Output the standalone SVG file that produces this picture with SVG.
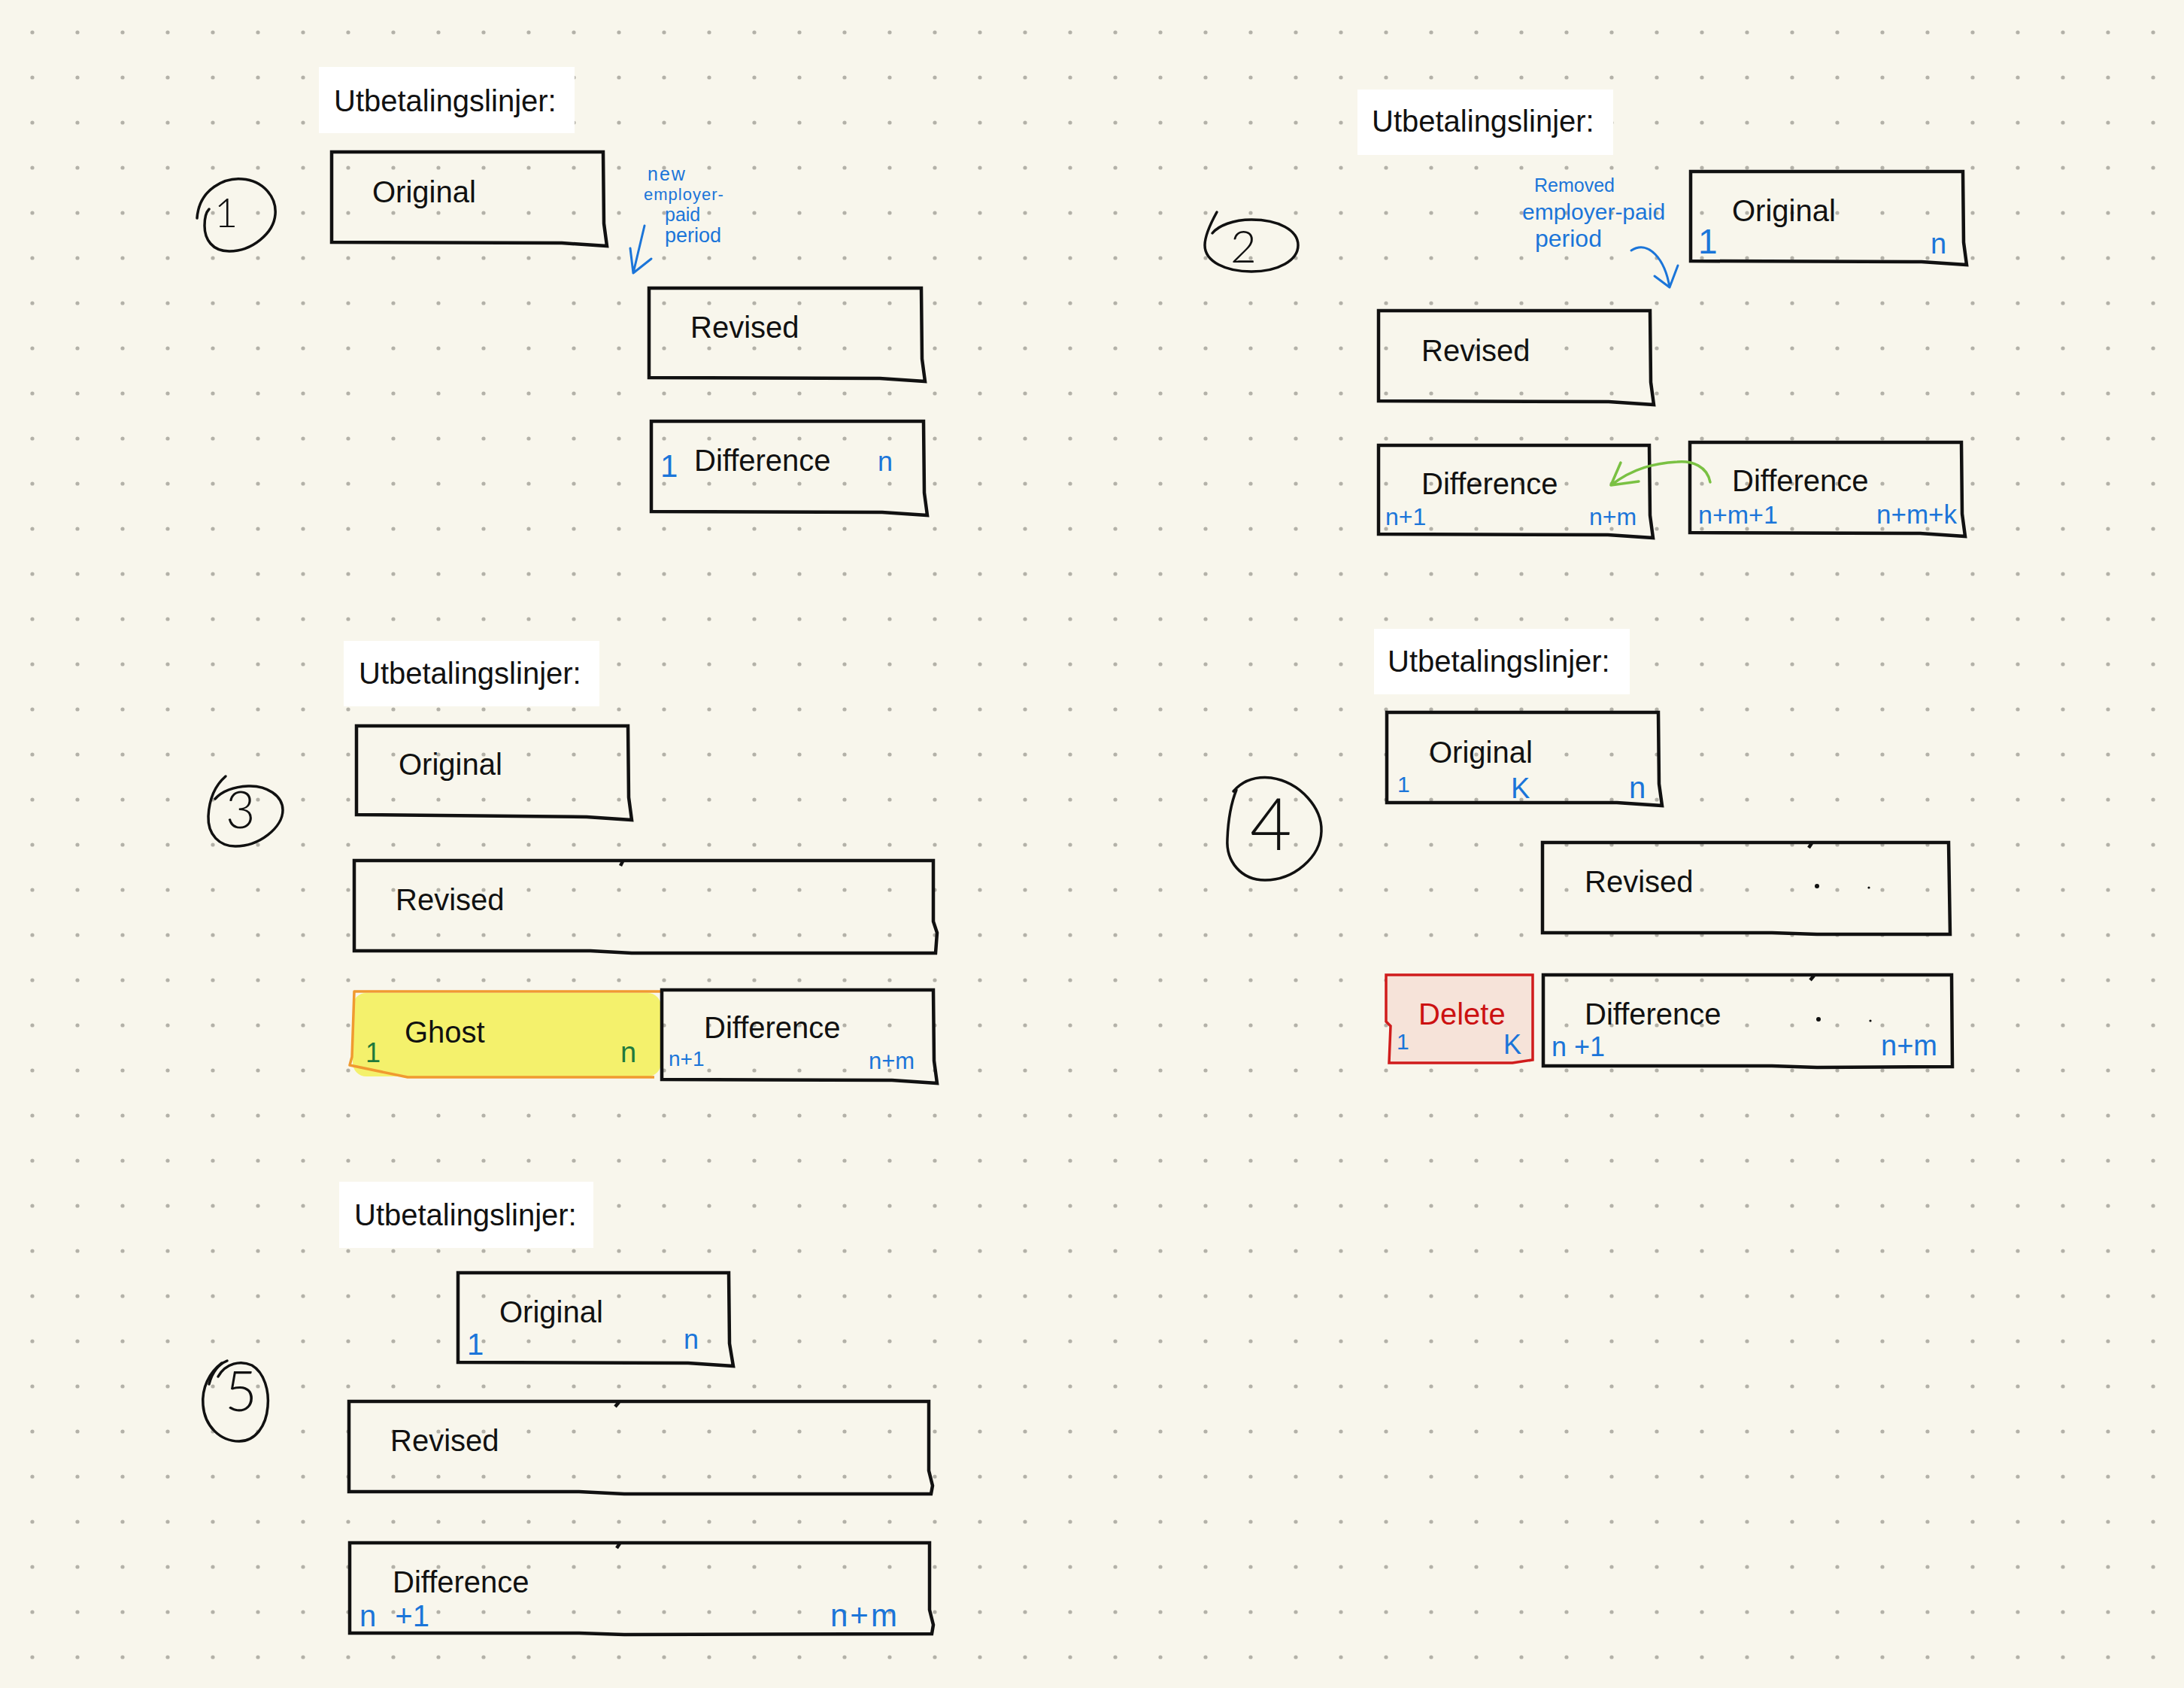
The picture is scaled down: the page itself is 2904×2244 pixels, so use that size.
<svg xmlns="http://www.w3.org/2000/svg" width="2904" height="2244" viewBox="0 0 2904 2244">
<defs>
<pattern id="dots" x="13" y="13" width="60" height="60" patternUnits="userSpaceOnUse"><circle cx="30" cy="30" r="2.6" fill="#b3b1a8"/></pattern>
<style>
.bg{fill:#f8f6ec}
.box{fill:none;stroke:#111;stroke-width:4.5;stroke-linejoin:miter}
.lbl{fill:#fff}
.t{font-family:"Liberation Sans",Arial,sans-serif;font-size:40px;fill:#111}
.h{font-family:"Liberation Sans",Arial,sans-serif;fill:#1b75d9}
.g{font-family:"Liberation Sans",Arial,sans-serif;fill:#1f7a3c}
.num{font-family:Lato,"Liberation Sans",sans-serif;font-weight:300;fill:#111}
.circ{fill:none;stroke:#111;stroke-width:3.5;stroke-linecap:round}
.bl{fill:none;stroke:#1b75d9;stroke-width:3;stroke-linecap:round;stroke-linejoin:round}
.gr{fill:none;stroke:#7ac143;stroke-width:3.5;stroke-linecap:round;stroke-linejoin:round}
</style>
</defs>
<rect class="bg" x="0" y="0" width="2904" height="2244"/>
<rect x="0" y="0" width="2904" height="2244" fill="url(#dots)"/>

<!-- Panel 1 -->
<g id="p1-number">
<path class="circ" d="M262,290 C265,250 300,236 322,238 C350,240 368,262 366,285 C364,310 335,334 305,334 C282,334 272,318 272,300 C272,290 274,282 278,278"/>
<text class="num" x="285" y="302" font-size="54">1</text>
</g>
<g id="p1-label"><rect class="lbl" x="424" y="89" width="340" height="88"/><text class="t" x="444" y="148">Utbetalingslinjer:</text></g>
<g id="p1-original"><path class="box" d="M441,202 H802 L803,297 L807,327 L747,323 L441,322 Z"/><text class="t" x="495" y="269">Original</text></g>
<g id="p1-revised"><path class="box" d="M863,383 H1225 L1226,477 L1230,507 L1170,503 L863,502 Z"/><text class="t" x="918" y="449">Revised</text></g>
<g id="p1-difference"><path class="box" d="M866,560 H1228 L1229,655 L1233,685 L1173,681 L866,680 Z"/><text class="t" x="923" y="626">Difference</text>
<text class="h" x="878" y="634" font-size="42">1</text><text class="h" x="1167" y="626" font-size="36">n</text></g>
<g id="p1-note">
<text class="h" x="861" y="240" font-size="25" letter-spacing="2">new</text>
<text class="h" x="856" y="266" font-size="22" letter-spacing="1">employer-</text>
<text class="h" x="884" y="294" font-size="25">paid</text>
<text class="h" x="884" y="322" font-size="27">period</text>
</g>

<!-- Panel 2 -->
<g id="p2-number">
<path class="circ" d="M1618,282 C1608,300 1602,315 1602,326 C1602,348 1630,361 1664,361 C1700,361 1726,346 1726,326 C1726,306 1700,292 1664,292 C1640,292 1620,300 1612,310"/>
<text class="num" x="1636" y="349" font-size="60">2</text>
</g>
<g id="p2-label"><rect class="lbl" x="1805" y="119" width="340" height="87"/><text class="t" x="1824" y="175">Utbetalingslinjer:</text></g>
<g id="p2-original"><path class="box" d="M2248,228 H2610 L2611,322 L2615,352 L2555,348 L2248,347 Z"/><text class="t" x="2303" y="294">Original</text>
<text class="h" x="2258" y="337" font-size="46">1</text><text class="h" x="2567" y="337" font-size="38">n</text></g>
<g id="p2-revised"><path class="box" d="M1833,413 H2194 L2195,508 L2199,538 L2139,534 L1833,533 Z"/><text class="t" x="1890" y="480">Revised</text></g>
<g id="p2-difference-a"><path class="box" d="M1833,592 H2193 L2194,685 L2198,715 L2138,711 L1833,710 Z"/><text class="t" x="1890" y="657">Difference</text>
<text class="h" x="1842" y="698" font-size="32">n+1</text><text class="h" x="2113" y="698" font-size="32">n+m</text></g>
<g id="p2-difference-b"><path class="box" d="M2247,588 H2608 L2609,683 L2613,713 L2553,709 L2247,708 Z"/><text class="t" x="2303" y="653">Difference</text>
<text class="h" x="2258" y="696" font-size="34">n+m+1</text><text class="h" x="2495" y="696" font-size="35">n+m+k</text></g>
<g id="p2-note">
<text class="h" x="2040" y="255" font-size="25">Removed</text>
<text class="h" x="2024" y="292" font-size="30">employer-paid</text>
<text class="h" x="2041" y="328" font-size="32">period</text>
</g>

<!-- Panel 3 -->
<g id="p3-number">
<path class="circ" d="M300,1032 C285,1045 278,1065 277,1085 C276,1110 292,1125 313,1125 C345,1125 376,1100 376,1077 C376,1058 355,1044 330,1045 C310,1046 295,1052 286,1062"/>
<text class="num" x="300" y="1101" font-size="68">3</text>
</g>
<g id="p3-label"><rect class="lbl" x="457" y="852" width="340" height="87"/><text class="t" x="477" y="909">Utbetalingslinjer:</text></g>
<g id="p3-original"><path class="box" d="M474,965 H835 L836,1060 L840,1090 L780,1086 L474,1083 Z"/><text class="t" x="530" y="1030">Original</text></g>
<g id="p3-revised"><path class="box" d="M471,1144 H1241 L1241,1225 L1246,1240 L1244,1267 L840,1267 L785,1264 L471,1264 Z"/><path class="box" d="M828,1145 L825,1151"/><text class="t" x="526" y="1210">Revised</text></g>
<g id="p3-ghost">
<rect x="469" y="1320" width="410" height="111" rx="18" fill="#f4f16c"/>
<path fill="none" stroke="#f09a30" stroke-width="3.5" stroke-linejoin="round" d="M880,1318 L471,1318 L468,1405 L465,1416 L542,1432 L870,1432"/>
<text class="t" x="538" y="1386">Ghost</text>
<text class="g" x="486" y="1412" font-size="36">1</text><text class="g" x="825" y="1412" font-size="38">n</text></g>
<g id="p3-difference"><path class="box" d="M880,1316 H1241 L1242,1410 L1246,1440 L1186,1436 L880,1435 Z"/><text class="t" x="936" y="1380">Difference</text>
<text class="h" x="889" y="1417" font-size="28">n+1</text><text class="h" x="1155" y="1421" font-size="31">n+m</text></g>

<!-- Panel 4 -->
<g id="p4-number">
<path class="circ" d="M1640,1052 C1652,1038 1670,1032 1690,1034 C1730,1040 1758,1075 1757,1105 C1756,1140 1720,1170 1682,1170 C1650,1170 1630,1145 1632,1115 C1633,1090 1636,1070 1644,1050"/>
<text class="num" x="1662" y="1130" font-size="96">4</text>
</g>
<g id="p4-label"><rect class="lbl" x="1827" y="836" width="340" height="87"/><text class="t" x="1845" y="893">Utbetalingslinjer:</text></g>
<g id="p4-original"><path class="box" d="M1844,947 H2205 L2206,1042 L2210,1071 L2150,1067 L1844,1067 Z"/><text class="t" x="1900" y="1014">Original</text>
<text class="h" x="1858" y="1053" font-size="30">1</text><text class="h" x="2009" y="1061" font-size="38">K</text><text class="h" x="2166" y="1061" font-size="40">n</text></g>
<g id="p4-revised"><path class="box" d="M2051,1120 H2591 L2593,1242 L2416,1242 L2356,1240 L2051,1240 Z"/><path class="box" d="M2409,1121 L2405,1127"/><text class="t" x="2107" y="1186">Revised</text>
<circle cx="2416" cy="1178" r="3" fill="#111"/><circle cx="2485" cy="1180" r="1.6" fill="#111"/></g>
<g id="p4-delete"><path fill="#f6e3d9" stroke="#d01c1c" stroke-width="3.5" d="M1843,1296 H2038 L2038,1409 L2011,1413 L1847,1413 L1849,1364 L1843,1358 Z"/><text x="1886" y="1362" font-family="Liberation Sans,Arial,sans-serif" font-size="40" fill="#cc1111">Delete</text>
<text class="h" x="1857" y="1395" font-size="30">1</text><text class="h" x="1999" y="1401" font-size="36">K</text></g>
<g id="p4-difference"><path class="box" d="M2052,1296 H2595 L2596,1418 L2416,1419 L2356,1417 L2052,1417 Z"/><path class="box" d="M2412,1297 L2407,1303"/><text class="t" x="2107" y="1362">Difference</text>
<circle cx="2418" cy="1355" r="3" fill="#111"/><circle cx="2487" cy="1357" r="1.6" fill="#111"/>
<text class="h" x="2063" y="1404" font-size="36">n +1</text><text class="h" x="2501" y="1403" font-size="38">n+m</text></g>

<!-- Panel 5 -->
<g id="p5-number">
<path class="circ" d="M290,1830 C300,1812 320,1808 335,1815 C352,1825 358,1850 356,1870 C354,1895 340,1916 318,1916 C292,1916 272,1895 270,1868 C268,1845 278,1825 295,1812"/>
<path class="circ" d="M278,1840 C282,1825 290,1814 302,1809"/>
<text class="num" x="299" y="1876" font-size="74">5</text>
</g>
<g id="p5-label"><rect class="lbl" x="451" y="1571" width="338" height="88"/><text class="t" x="471" y="1629">Utbetalingslinjer:</text></g>
<g id="p5-original"><path class="box" d="M609,1692 H969 L970,1786 L975,1816 L915,1812 L609,1811 Z"/><text class="t" x="664" y="1758">Original</text>
<text class="h" x="621" y="1801" font-size="40">1</text><text class="h" x="909" y="1793" font-size="36">n</text></g>
<g id="p5-revised"><path class="box" d="M464,1863 H1235 L1235,1955 L1240,1975 L1238,1986 L830,1986 L770,1983 L464,1983 Z"/><path class="box" d="M823,1864 L818,1870"/><text class="t" x="519" y="1929">Revised</text></g>
<g id="p5-difference"><path class="box" d="M465,2051 H1236 L1236,2140 L1241,2160 L1239,2172 L830,2173 L770,2171 L465,2171 Z"/><path class="box" d="M824,2052 L820,2058"/><text class="t" x="522" y="2117">Difference</text>
<text class="h" x="478" y="2162" font-size="40" word-spacing="14">n +1</text><text class="h" x="1104" y="2162" font-size="42" letter-spacing="3">n+m</text></g>

<!-- Connectors -->
<g id="connectors">
<path class="bl" d="M857,300 L842,363 M838,330 L842,363 L866,344"/>
<path class="bl" d="M2169,333 C2192,318 2214,345 2220,382 M2200,367 L2220,382 L2231,353"/>
<path class="gr" d="M2274,641 C2270,620 2250,612 2230,614 C2200,616 2172,622 2142,645 M2155,615 L2142,645 L2179,640"/>
</g>
</svg>
